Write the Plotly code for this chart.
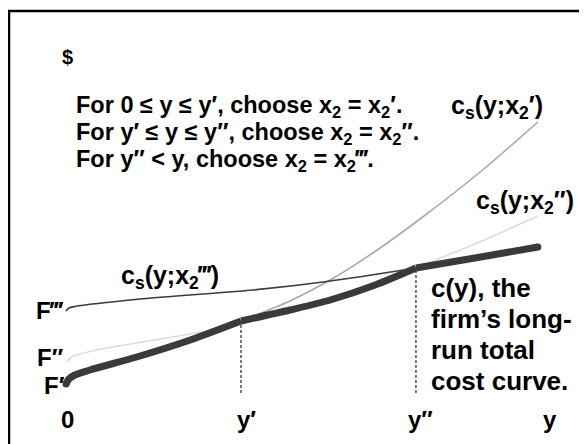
import plotly.graph_objects as go

# ---- data (output y on x-axis, cost $ on y-axis) ----
y_prime = 3.0
y_dprime = 6.0
cost_at_yp = 7.2
cost_at_ydp = 12.5

# long-run total cost c(y): three pieces of the lower envelope
c1_y = [0.0, 0.05, 0.15, 0.41, 1.27, 2.13, 3.0]
c1_c = [0.9, 1.4, 1.8, 2.3, 3.7, 5.3, 7.2]
c2_y = [3.0, 3.84, 4.53, 5.30, 6.0]
c2_c = [7.2, 8.3, 9.3, 10.8, 12.5]
c3_y = [6.0, 7.01, 8.09]
c3_c = [12.5, 13.5, 14.6]

# short-run cost with x2'
s1_y = [0.0, 0.05, 0.15, 0.41, 1.27, 2.13, 3.0, 3.84, 4.53, 5.26, 6.07, 7.10, 8.09]
s1_c = [0.9, 1.4, 1.8, 2.3, 3.7, 5.3, 7.2, 9.2, 11.3, 14.0, 17.4, 22.1, 27.1]

# short-run cost with x2''
s2_y = [0.02, 0.07, 0.24, 0.70, 1.83, 2.59, 3.0, 3.84, 4.53, 5.30, 6.0, 7.01, 8.09]
s2_c = [3.1, 3.5, 3.9, 4.5, 5.6, 6.4, 7.2, 8.3, 9.3, 10.8, 12.5, 14.9, 17.7]

# short-run cost with x2'''
s3_y = [0.0, 0.05, 0.15, 1.27, 3.21, 4.41, 6.0, 7.01, 8.09]
s3_c = [8.2, 8.5, 8.65, 9.4, 10.3, 11.1, 12.5, 13.5, 14.6]

rule_lines = [
    "For 0 ≤ y ≤ y′, choose x<sub>2</sub> = x<sub>2</sub>′.",
    "For y′ ≤ y ≤ y″, choose x<sub>2</sub> = x<sub>2</sub>″.",
    "For y″ &lt; y, choose x<sub>2</sub> = x<sub>2</sub>‴.",
]
lr_lines = ["c(y), the", "firm’s long-", "run total", "cost curve."]

# page body margin of 8px: the figure sits at (8, 8) in the window
OFF = 8
W, H = 587 - OFF, 444 - OFF
def px(x):
    return (x - OFF) / W
def py(y):
    return 1 - (y - OFF) / H

XS = 58.33   # px per output unit
YS = 10.0    # px per cost unit
X0, Y0 = 66, 393   # reference pixel of origin

FONT = "Liberation Sans, Arial, sans-serif"

fig = go.Figure()

def line(xs, ys, color, width, shape="spline", dash=None):
    fig.add_trace(go.Scatter(x=xs, y=ys, mode="lines",
                             line=dict(color=color, width=width, shape=shape, smoothing=0.8, dash=dash),
                             hoverinfo="skip"))

line(s1_y, s1_c, "#a9a9a9", 1.6)
line(s2_y, s2_c, "#dcdcdc", 1.6)
line(s3_y, s3_c, "#3c3c3c", 1.6)
line([y_prime, y_prime], [0, cost_at_yp], "#000000", 1, shape="linear", dash="3px,2px")
line([y_dprime, y_dprime], [0, cost_at_ydp], "#000000", 1, shape="linear", dash="3px,2px")
THICK = "#3a3a3a"
line(c1_y, c1_c, THICK, 7)
line(c2_y, c2_c, THICK, 7)
line(c3_y, c3_c, THICK, 7)
# rounded ends of the thick curve
fig.add_trace(go.Scatter(x=[c1_y[0], c3_y[-1]], y=[c1_c[0], c3_c[-1]], mode="markers",
                         marker=dict(color=THICK, size=7, line=dict(width=0)), hoverinfo="skip"))

# border: only top and left edges are inside the picture
fig.add_shape(type="line", xref="paper", yref="paper", x0=px(8), y0=py(11), x1=1.0, y1=py(11),
              line=dict(color="black", width=2.5))
fig.add_shape(type="line", xref="paper", yref="paper", x0=px(9), y0=py(10), x1=px(9), y1=0.0,
              line=dict(color="black", width=2.5))

def ann(text, x, y, size, xanchor="left", yanchor="middle"):
    fig.add_annotation(text=text, x=px(x), y=py(y), xref="paper", yref="paper",
                       xanchor=xanchor, yanchor=yanchor, align="left", showarrow=False,
                       font=dict(family=FONT, size=size, color="black", weight="bold"))

ann("$", 68, 57, 20, xanchor="center")
ann("<br>".join('<span style="font-size:23.5px">%s</span>' % t for t in rule_lines), 74, 133, 20.8)
ann("c<sub>s</sub>(y;x<sub>2</sub>′)", 449, 107, 25)
ann("c<sub>s</sub>(y;x<sub>2</sub>″)", 474, 202, 25)
ann("c<sub>s</sub>(y;x<sub>2</sub>‴)", 119, 277, 25)
ann("F‴", 66, 310, 24, xanchor="right")
ann("F″", 66, 357, 24, xanchor="right")
ann("F′", 67, 385, 24, xanchor="right")
ann("0", 68, 419, 24, xanchor="center")
ann("y′", 246, 419, 24, xanchor="center")
ann("y″", 420, 419, 24, xanchor="center")
ann("y", 550, 419, 24, xanchor="center")
ann("<br>".join('<span style="font-size:26px">%s</span>' % t for t in lr_lines), 429, 334, 23.8)

fig.update_layout(
    width=W, height=H, autosize=False,
    margin=dict(l=0, r=0, t=0, b=0),
    paper_bgcolor="white", plot_bgcolor="white",
    showlegend=False,
    xaxis=dict(range=[(OFF - X0) / XS, (OFF + W - X0) / XS], visible=False, fixedrange=True),
    yaxis=dict(range=[(Y0 - OFF - H) / YS, (Y0 - OFF) / YS], visible=False, fixedrange=True),
)

fig.write_html("out.html")
